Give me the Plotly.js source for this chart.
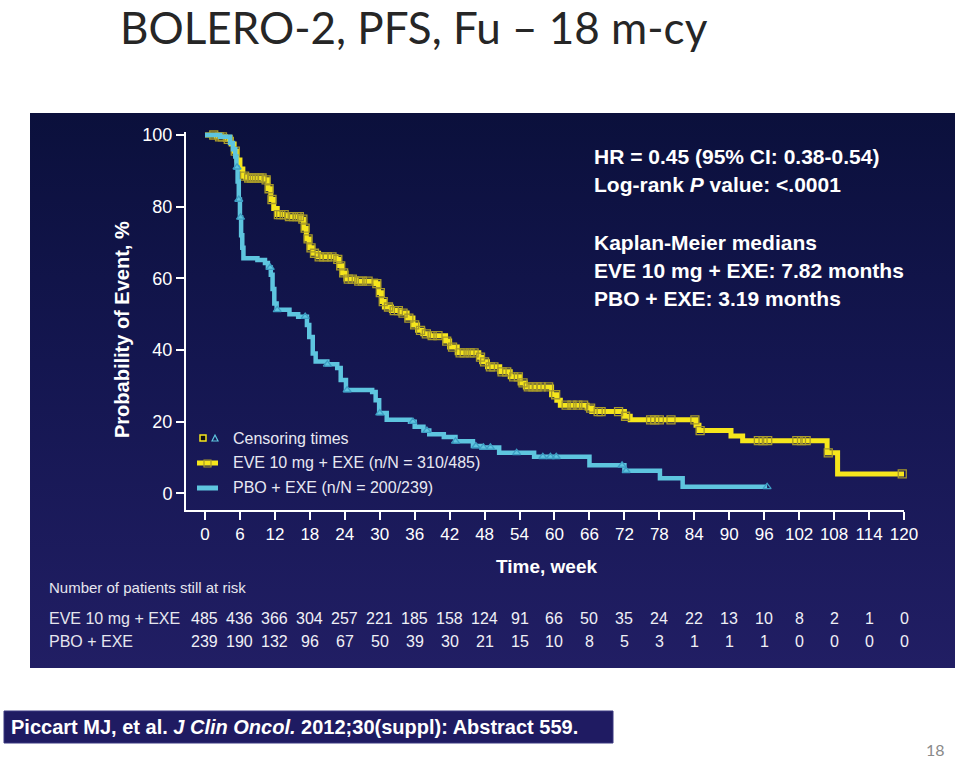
<!DOCTYPE html>
<html>
<head>
<meta charset="utf-8">
<script src="https://cdn.plot.ly/plotly-3.0.1.min.js"></script>
<style>
  html, body { margin:0; padding:0; background:#ffffff; }
  #wrap { position:relative; width:959px; height:761px; overflow:hidden; }
  #panel { position:absolute; left:30px; top:113px; width:925px; height:555px;
           background:linear-gradient(to bottom, #0b103c 0%, #141650 45%, #211e64 100%); }
  #chart { position:absolute; left:0; top:0; width:959px; height:761px; }
</style>
</head>
<body>
<div id="wrap">
  <div id="panel"></div>
  <div id="chart"></div>
</div>
<script>
// ---------------- DATA ----------------
const tickWeeks = [0,6,12,18,24,30,36,42,48,54,60,66,72,78,84,90,96,102,108,114,120];
const yTicks = [0,20,40,60,80,100];

// EVE 10 mg + EXE Kaplan-Meier steps (week, % event-free)
const eveT = [0,2,3.5,4.5,5,5.5,6,6.5,7,10,10.8,11.3,11.8,12.4,14,16.5,16.9,17.4,17.9,18.5,19.5,22.5,23,23.5,24.2,26,29.3,29.8,30.3,30.8,32,33.5,34.7,35.7,36.5,37.4,38.5,41.3,42,43.3,47,47.5,48.5,50.6,52.4,54.1,55,59.5,60.4,61,65.6,66.4,72,73,84.3,84.8,90.3,92.3,106.8,108.6,120];
const eveV = [100,99.5,98.8,97.5,95.5,93,90.5,88.5,88,87.5,85,82,79.5,77.8,77.2,76.5,74,71,68.5,67,66,65.3,63.5,61.5,59.8,59.2,58.5,56,53.5,52,51,50.3,48.9,47,45.5,44.5,44,42.5,40.8,39.2,38,36.7,35.3,33.9,32.5,30.8,29.7,27.5,26,24.6,23.8,22.8,21.5,20.5,19,17.5,16,14.7,11.3,5.4,5.4];

// PBO + EXE Kaplan-Meier steps
const pboT = [0,2.6,4.3,4.8,5.2,5.4,5.6,5.8,6,6.2,6.4,6.6,9,10.3,10.8,11.3,11.6,11.9,12.3,14.5,16,17.5,17.9,18.5,19,21,22.7,23.3,24.2,28.7,29.3,29.9,31.2,35.2,36,37.5,38.5,41,43,46,47.5,50.5,56.5,66,72,78.1,82,96.5];
const pboV = [100,99.5,97.8,96,94,91,87,82,77,72,68.5,65.6,65.1,64.3,63,61,57,53,51.2,50,49.3,47,43.6,39,36.8,36,35,31.6,28.8,28.3,26,22.4,20.5,20,18.6,17.5,16.5,15.7,14.5,13.2,12.8,11.3,10.2,7.8,6.3,4.2,1.8,1.8];

// Censoring times (weeks)
const eveCensor = [1.5,2.5,3,4,5.2,6.8,7.5,8,8.5,9.3,9.8,10.5,11,11.5,12.6,13,13.6,14.5,15.2,15.8,16.2,16.8,17.2,17.7,18.2,18.8,19.6,20.4,21,21.8,22.8,23.3,23.8,24.6,25.3,26.4,27,28,29.5,30.1,30.6,31.5,32.5,33.2,34,35,36,37,38,39,40,41.5,42.5,43.8,44.5,45.5,46.2,47.3,48,49,49.6,51,51.8,53,53.8,54.6,55.5,56.3,57,57.7,59,60.2,62,63,64,65,66.2,67.5,68,71,72.2,76.5,77.2,78,80,84.1,85,95,95.8,96.6,101.6,102.4,103.2,107,119.7];
const pboCensor = [5.5,5.8,6.1,11.2,12.4,17.2,21,24.4,30,35.7,38.1,43,46.5,47.8,49,53.5,58,59.3,60.3,71.6,72.3,96.5];

// Number at risk
const riskEve = [485,436,366,304,257,221,185,158,124,91,66,50,35,24,22,13,10,8,2,1,0];
const riskPbo = [239,190,132,96,67,50,39,30,21,15,10,8,5,3,1,1,1,0,0,0,0];

const seriesNames = ['EVE 10 mg + EXE', 'PBO + EXE'];

// ---------------- LAYOUT HELPERS ----------------
const L = 186, T = 132, W = 718, H = 378;
const px = x => (x - L) / W;
const py = y => (T + H - y) / H;
const FONT = 'Liberation Sans, Arial, sans-serif';
const YEL = '#f6e61c', CYA = '#5ec5df';

function kmAt(ts, vs, t) {
  let v = vs[0];
  for (let i = 0; i < ts.length; i++) if (ts[i] <= t) v = vs[i];
  return v;
}

const traces = [
  { x: eveT, y: eveV, type: 'scatter', mode: 'lines', line: { shape: 'hv', color: YEL, width: 5 }, hoverinfo: 'skip', showlegend: false },
  { x: eveCensor, y: eveCensor.map(t => kmAt(eveT, eveV, t)), type: 'scatter', mode: 'markers', cliponaxis: false,
    marker: { symbol: 'square-open', size: 8, color: '#a89a2a', line: { width: 1.3 } }, hoverinfo: 'skip', showlegend: false },
  { x: pboT, y: pboV, type: 'scatter', mode: 'lines', line: { shape: 'hv', color: CYA, width: 4.5 }, hoverinfo: 'skip', showlegend: false },
  { x: pboCensor, y: pboCensor.map(t => kmAt(pboT, pboV, t)), type: 'scatter', mode: 'markers', cliponaxis: false,
    marker: { symbol: 'triangle-up-open', size: 7, color: '#3d9ec4', line: { width: 1.3 } }, hoverinfo: 'skip', showlegend: false }
];

const ann = [];
const shapes = [];
function txt(text, x, y, size, opts) {
  ann.push(Object.assign({ text: text, x: px(x), y: py(y), xref: 'paper', yref: 'paper', showarrow: false,
    xanchor: 'left', yanchor: 'middle', font: { family: FONT, size: size, color: '#ffffff' } }, opts || {}));
}

// Title
txt('BOLERO-2, PFS, Fu – 18 m-cy', 119, 0, 44, { yanchor: 'top', borderpad: 0,
  font: { family: 'Lato, Carlito, sans-serif', size: 44, color: '#262626' } });

// Stats text
txt('<b>HR = 0.45 (95% CI: 0.38-0.54)</b>', 592, 156, 21);
txt('<b>Log-rank <i>P</i> value: &lt;.0001</b>', 592, 184, 21);
txt('<b>Kaplan-Meier medians</b>', 592, 242, 21);
txt('<b>' + seriesNames[0] + ': 7.82 months</b>', 592, 270, 21);
txt('<b>' + seriesNames[1] + ': 3.19 months</b>', 592, 298, 21);

// Axis titles
txt('<b>Probability of Event, %</b>', 122, 330, 20, { xanchor: 'center', textangle: -90 });
txt('<b>Time, week</b>', 546, 566, 19, { xanchor: 'center' });

// Legend
txt('Censoring times', 231, 438, 16, { font: { family: FONT, size: 16, color: '#e8e8f2' } });
txt(seriesNames[0] + ' (n/N = 310/485)', 231, 462, 16, { font: { family: FONT, size: 16, color: '#e8e8f2' } });
txt(seriesNames[1] + ' (n/N = 200/239)', 231, 487, 16, { font: { family: FONT, size: 16, color: '#e8e8f2' } });
shapes.push({ type: 'rect', xref: 'paper', yref: 'paper', x0: px(200), x1: px(206), y0: py(441), y1: py(435), line: { color: YEL, width: 1.5 }, fillcolor: '#111' });
shapes.push({ type: 'path', xref: 'paper', yref: 'paper',
  path: 'M ' + px(212) + ' ' + py(441) + ' L ' + px(218) + ' ' + py(441) + ' L ' + px(215) + ' ' + py(435) + ' Z',
  line: { color: CYA, width: 1.2 }, fillcolor: 'rgba(0,0,0,0)' });
shapes.push({ type: 'line', xref: 'paper', yref: 'paper', x0: px(197), x1: px(218), y0: py(463), y1: py(463), line: { color: YEL, width: 5 } });
shapes.push({ type: 'rect', xref: 'paper', yref: 'paper', x0: px(204), x1: px(211), y0: py(467), y1: py(460), line: { color: '#a89a2a', width: 1.2 }, fillcolor: 'rgba(0,0,0,0)' });
shapes.push({ type: 'line', xref: 'paper', yref: 'paper', x0: px(197), x1: px(218), y0: py(488), y1: py(488), line: { color: CYA, width: 5 } });

// Risk table
txt('Number of patients still at risk', 47, 587, 15, { font: { family: FONT, size: 15, color: '#e6e6ee' } });
txt(seriesNames[0], 47, 618, 16, { font: { family: FONT, size: 16, color: '#e6e6ee' } });
txt(seriesNames[1], 47, 641, 16, { font: { family: FONT, size: 16, color: '#e6e6ee' } });
tickWeeks.forEach((w, i) => {
  ann.push({ text: String(riskEve[i]), x: w, xref: 'x', y: py(618), yref: 'paper', showarrow: false, xanchor: 'center', yanchor: 'middle',
    font: { family: FONT, size: 16, color: '#f0f0f6' } });
  ann.push({ text: String(riskPbo[i]), x: w, xref: 'x', y: py(641), yref: 'paper', showarrow: false, xanchor: 'center', yanchor: 'middle',
    font: { family: FONT, size: 16, color: '#f0f0f6' } });
});

// Footer reference box
shapes.push({ type: 'rect', xref: 'paper', yref: 'paper', x0: px(4), x1: px(613), y0: py(743), y1: py(711), line: { color: '#3b3880', width: 1 }, fillcolor: '#1f1b62' });
txt('<b>Piccart MJ, et al. <i>J Clin Oncol.</i> 2012;30(suppl): Abstract 559.</b>', 9, 727, 20);

// Page number
txt('18', 935, 760, 16, { xanchor: 'center', yanchor: 'bottom', borderpad: 0,
  font: { family: 'Lato, Carlito, sans-serif', size: 16, color: '#8a8a8a' } });

const layout = {
  width: 959, height: 761,
  margin: { l: L, r: 959 - L - W, t: T, b: 761 - T - H, pad: 0 },
  paper_bgcolor: 'rgba(0,0,0,0)', plot_bgcolor: 'rgba(0,0,0,0)',
  showlegend: false,
  xaxis: { range: [-3.26, 120], tickvals: tickWeeks, ticktext: tickWeeks.map(String), showgrid: false, zeroline: false,
           showline: true, linecolor: '#ffffff', linewidth: 2, ticks: 'outside', ticklen: 8, tickwidth: 2, tickcolor: '#ffffff',
           tickfont: { family: FONT, size: 17, color: '#ffffff' }, fixedrange: true },
  yaxis: { range: [-4.66, 100.84], tickvals: yTicks, ticktext: yTicks.map(String), showgrid: false, zeroline: false,
           showline: true, linecolor: '#ffffff', linewidth: 2, ticks: 'outside', ticklen: 8, tickwidth: 2, tickcolor: '#ffffff',
           tickfont: { family: FONT, size: 18, color: '#ffffff' }, fixedrange: true },
  annotations: ann,
  shapes: shapes
};

Plotly.newPlot('chart', traces, layout, { staticPlot: true, displayModeBar: false });
</script>
</body>
</html>
